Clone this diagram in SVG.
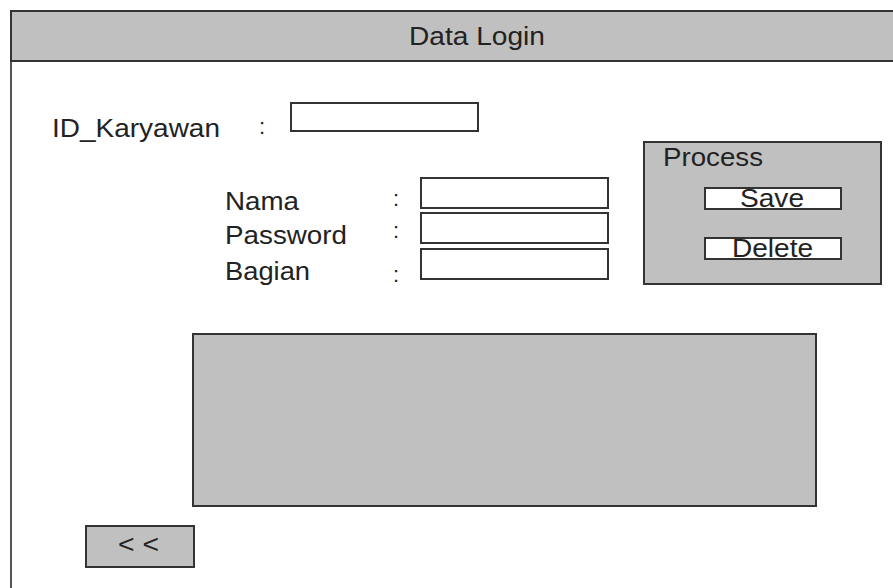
<svg xmlns="http://www.w3.org/2000/svg" width="893" height="588" viewBox="0 0 893 588">
  <style>
    .panel { fill: #c0c0c0; stroke: #333333; stroke-width: 2; }
    .field { fill: #ffffff; stroke: #333333; stroke-width: 2; }
    .label { font-family: "Liberation Sans", Arial, sans-serif; font-size: 26px; fill: #222222; }
    .colon { font-family: "Liberation Sans", Arial, sans-serif; font-size: 22px; fill: #222222; }
  </style>

  <!-- form frame: left edge and title bar -->
  <g id="frame">
    <rect x="0" y="0" width="893" height="588" fill="#ffffff"/>
    <line x1="11" y1="11" x2="11" y2="588" stroke="#555555" stroke-width="2"/>
    <rect x="11" y="11" width="890" height="50" class="panel"/>
    <text x="409" y="45" class="label" textLength="136" lengthAdjust="spacingAndGlyphs">Data Login</text>
  </g>

  <!-- employee id field -->
  <g id="id-karyawan">
    <text x="52" y="137" class="label" font-size="27" textLength="168" lengthAdjust="spacingAndGlyphs">ID_Karyawan</text>
    <text x="259" y="134" class="colon">:</text>
    <rect x="291" y="103" width="187" height="28" class="field"/>
  </g>

  <!-- user fields -->
  <g id="nama">
    <text x="225" y="210" class="label" textLength="74" lengthAdjust="spacingAndGlyphs">Nama</text>
    <text x="393" y="206" class="colon">:</text>
    <rect x="421" y="178" width="187" height="30" class="field"/>
  </g>
  <g id="password">
    <text x="225" y="244" class="label" textLength="122" lengthAdjust="spacingAndGlyphs">Password</text>
    <text x="393" y="238" class="colon">:</text>
    <rect x="421" y="213" width="187" height="30" class="field"/>
  </g>
  <g id="bagian">
    <text x="225" y="280" class="label" textLength="85" lengthAdjust="spacingAndGlyphs">Bagian</text>
    <text x="393" y="282" class="colon">:</text>
    <rect x="421" y="249" width="187" height="30" class="field"/>
  </g>

  <!-- process panel with action buttons -->
  <g id="process">
    <rect x="644" y="142" width="237" height="142" class="panel"/>
    <text x="663" y="166" class="label" textLength="100" lengthAdjust="spacingAndGlyphs">Process</text>
  </g>
  <g id="save">
    <rect x="705" y="188" width="136" height="21" class="field"/>
    <text x="740" y="207" class="label" textLength="64" lengthAdjust="spacingAndGlyphs">Save</text>
  </g>
  <g id="delete">
    <rect x="705" y="238" width="136" height="21" class="field"/>
    <text x="732" y="257" class="label" textLength="81" lengthAdjust="spacingAndGlyphs">Delete</text>
  </g>

  <!-- data grid area -->
  <g id="grid">
    <rect x="193" y="334" width="623" height="172" class="panel"/>
  </g>

  <!-- back button -->
  <g id="back">
    <rect x="86" y="526" width="108" height="41" class="panel"/>
    <text x="118" y="553" class="label" font-size="24" textLength="41" lengthAdjust="spacingAndGlyphs">&lt; &lt;</text>
  </g>

  <!-- no connectors in this form layout -->
  <g id="connectors"/>
</svg>
